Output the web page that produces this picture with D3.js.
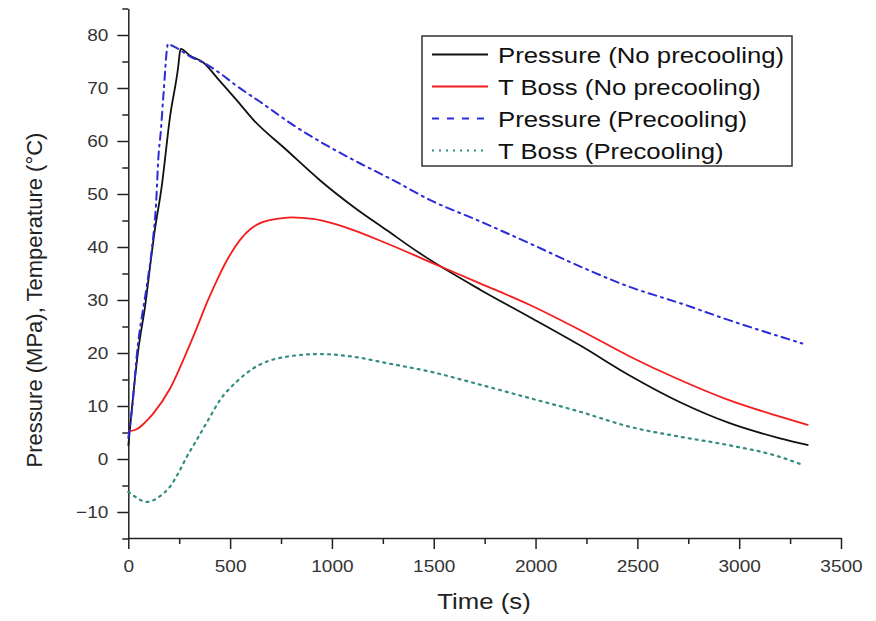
<!DOCTYPE html>
<html>
<head>
<meta charset="utf-8">
<script src="https://cdn.jsdelivr.net/npm/d3@7"></script>
<style>
  body { margin: 0; background: #fff; }
  svg { display: block; font-family: "Liberation Sans", Arial, sans-serif; }
</style>
</head>
<body>
<svg id="chart"></svg>
<script>
// values
let seriesNames = ["Pressure (No precooling)", "T Boss (No precooling)", "Pressure (Precooling)", "T Boss (Precooling)"];

let pressureNoTime = [0, 25, 49, 82, 115, 128, 164, 205, 245, 254, 258, 300, 368, 450, 530, 614, 777, 941, 1105, 1268, 1432, 1730, 1970, 2220, 2460, 2710, 2950, 3200, 3340];
let pressureNoVal  = [2.5, 12.4, 20.6, 28.7, 38.8, 42.6, 51.4, 64.6, 74.0, 76.9, 77.4, 76.2, 74.8, 71.3, 67.8, 64.0, 58.3, 52.6, 47.6, 43.2, 38.8, 31.9, 26.8, 21.4, 15.8, 10.7, 6.8, 3.9, 2.6];

let tBossNoTime = [0, 41, 80, 123, 205, 287, 336, 385, 434, 483, 548, 600, 647, 728, 800, 908, 1000, 1105, 1268, 1480, 1730, 1970, 2220, 2460, 2710, 2950, 3200, 3340];
let tBossNoVal  = [5.2, 5.6, 6.8, 8.6, 13.3, 20.2, 24.7, 29.4, 33.6, 37.4, 41.3, 43.4, 44.5, 45.3, 45.6, 45.3, 44.5, 43.2, 40.7, 37.2, 33.1, 29.1, 24.3, 19.4, 14.9, 11.1, 8.0, 6.4];

let pressurePreTime = [0, 20, 41, 90, 115, 139, 146, 160, 172, 196, 200, 245, 300, 368, 450, 532, 647, 810, 941, 1137, 1301, 1480, 1730, 1970, 2220, 2460, 2710, 2950, 3310];
let pressurePreVal  = [4, 10, 19.3, 32.5, 39.4, 50, 55.8, 62, 68.4, 78.4, 78.3, 77.4, 76, 74.8, 72.8, 70.4, 67.4, 63.0, 59.9, 55.8, 52.6, 48.9, 44.8, 40.7, 36.3, 32.5, 29.4, 26.2, 21.8];

let tBossPreTime = [0, 33, 90, 156, 205, 245, 287, 336, 393, 450, 532, 614, 777, 941, 1105, 1268, 1480, 1730, 1970, 2220, 2460, 2710, 2950, 3200, 3310];
let tBossPreVal  = [-6.2, -7.1, -8.1, -7.0, -5.2, -2.7, 0.4, 3.6, 7.4, 11.1, 14.6, 17.1, 19.3, 19.8, 19.3, 18.1, 16.5, 14.0, 11.5, 8.9, 6.1, 4.2, 2.6, 0.4, -1.1];

let xTicks = [0, 500, 1000, 1500, 2000, 2500, 3000, 3500];
let yTicks = [-10, 0, 10, 20, 30, 40, 50, 60, 70, 80];

function createChart() {
    let w = 876, h = 621;
    let sx = 1.12; // the reference is a little stretched sideways

    let svg = d3.select("#chart")
        .attr("width", w)
        .attr("height", h);

    let x = d3.scaleLinear().domain([0, 3500]).range([128.3, 841]);
    let y = d3.scaleLinear().domain([-15, 85]).range([538.5, 8.5]);

    let series = [
        {name: seriesNames[0], t: pressureNoTime, v: pressureNoVal, color: "#111", dash: null, width: 1.8, legendDash: null},
        {name: seriesNames[1], t: tBossNoTime, v: tBossNoVal, color: "#f41c1c", dash: null, width: 1.8, legendDash: null},
        {name: seriesNames[2], t: pressurePreTime, v: pressurePreVal, color: "#2a2ad8", dash: "8,5,2,5", width: 2, legendDash: "7,8"},
        {name: seriesNames[3], t: tBossPreTime, v: tBossPreVal, color: "#338c80", dash: "2,5", width: 2.2, legendDash: "2,5"}
    ];

    // minor ticks
    svg.append("g")
        .attr("transform", "translate(0,538)")
        .call(d3.axisBottom(x).tickValues(d3.range(250, 3500, 500)).tickSize(6).tickFormat(""))
        .call(g => g.select(".domain").remove());
    svg.append("g")
        .attr("transform", "translate(128.3,0)")
        .call(d3.axisLeft(y).tickValues(d3.range(-15, 86, 10)).tickSize(6).tickFormat(""))
        .call(g => g.select(".domain").remove());

    let xAxis = svg.append("g")
        .attr("transform", "translate(0,538)")
        .call(d3.axisBottom(x).tickValues(xTicks).tickSize(11).tickSizeOuter(0).tickFormat(d3.format("d")));
    xAxis.selectAll("text")
        .attr("y", 22)
        .attr("transform", `scale(${sx},1)`);

    let yAxis = svg.append("g")
        .attr("transform", "translate(128.3,0)")
        .call(d3.axisLeft(y).tickValues(yTicks).tickSize(11).tickSizeOuter(0));
    yAxis.selectAll("text")
        .attr("x", -20 / sx)
        .attr("transform", `scale(${sx},1)`);

    svg.selectAll(".tick line, .domain")
        .attr("stroke", "#222")
        .attr("stroke-width", 1.5);
    svg.selectAll(".tick text")
        .attr("font-size", 17)
        .attr("font-family", "Liberation Sans, Arial, sans-serif")
        .attr("fill", "#333");

    // curves
    let line = d3.line()
        .curve(d3.curveMonotoneX)
        .x(d => x(d[0]))
        .y(d => y(d[1]));

    svg.append("g")
        .selectAll("path")
        .data(series)
        .enter().append("path")
        .attr("d", s => line(s.t.map((t, i) => [t, s.v[i]])))
        .attr("fill", "none")
        .attr("stroke", s => s.color)
        .attr("stroke-width", s => s.width)
        .attr("stroke-dasharray", s => s.dash)
        .attr("stroke-linecap", s => s.dash ? "round" : "butt")
        .attr("stroke-linejoin", "round");

    // axis titles
    svg.append("text")
        .attr("transform", `translate(484,609) scale(${sx},1)`)
        .attr("text-anchor", "middle")
        .attr("font-size", 23)
        .attr("fill", "#222")
        .text("Time (s)");

    svg.append("text")
        .attr("transform", "translate(42,300) rotate(-90)")
        .attr("text-anchor", "middle")
        .attr("font-size", 22)
        .attr("fill", "#222")
        .text("Pressure (MPa), Temperature (°C)");

    // legend
    let legend = svg.append("g");
    legend.append("rect")
        .attr("x", 422).attr("y", 36)
        .attr("width", 370).attr("height", 130)
        .attr("fill", "#fff")
        .attr("stroke", "#333")
        .attr("stroke-width", 1.5);

    let item = legend.selectAll(".item")
        .data(series)
        .enter().append("g")
        .attr("class", "item")
        .attr("transform", (d, i) => `translate(0,${54.5 + i * 32})`);

    item.append("line")
        .attr("x1", 432).attr("x2", 488)
        .attr("stroke", d => d.color)
        .attr("stroke-width", d => d.width)
        .attr("stroke-dasharray", d => d.legendDash);

    item.append("text")
        .attr("transform", `translate(498,8.5) scale(${sx},1)`)
        .attr("font-size", 23)
        .attr("fill", "#111")
        .text(d => d.name);
}

window.onload = function() {
    createChart();
};
</script>
</body>
</html>
